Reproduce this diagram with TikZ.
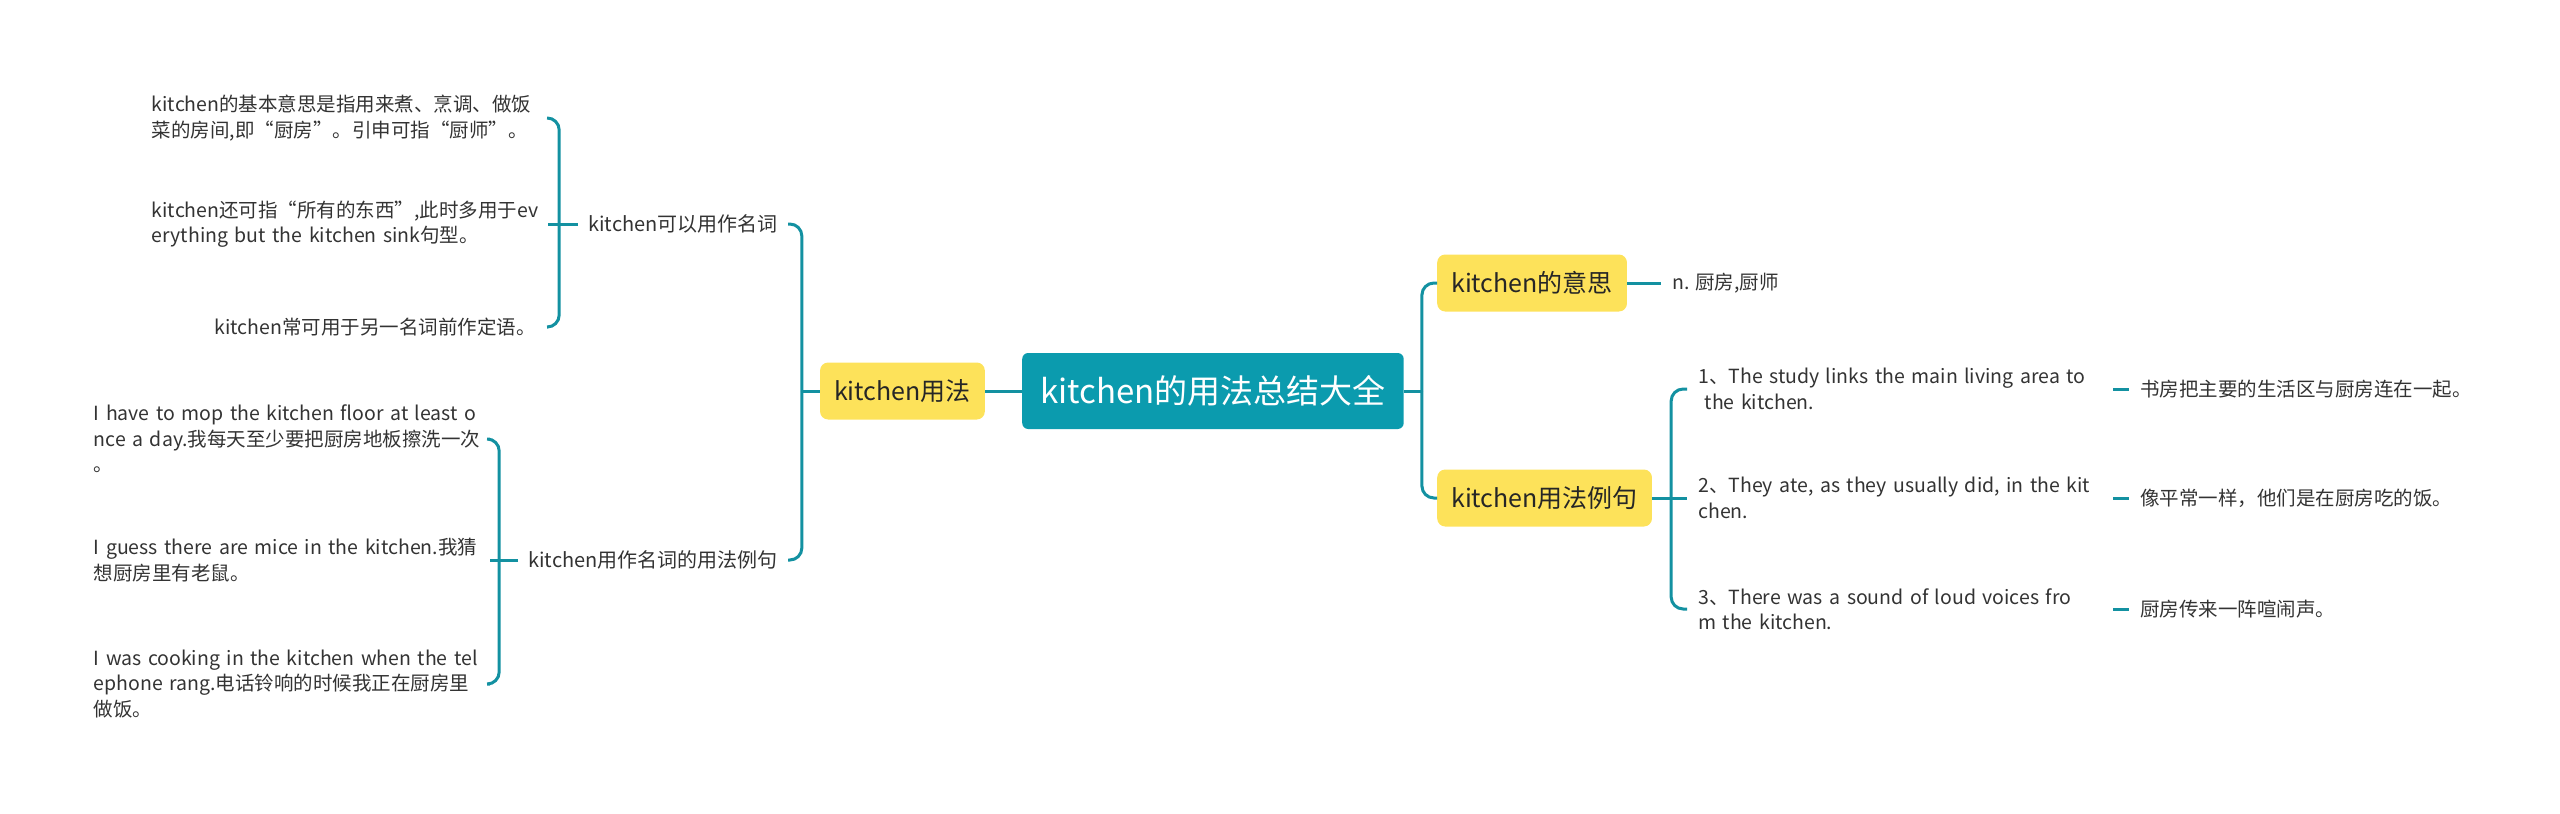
\documentclass[tikz,border=0pt]{standalone}
\usepackage{fontspec}
\setmainfont{Noto Sans CJK SC}
\definecolor{rootteal}{HTML}{0B9BAE}
\definecolor{linkteal}{HTML}{1391A1}
\definecolor{topicyellow}{HTML}{FDE25A}
\definecolor{leafgray}{HTML}{333333}
\begin{document}
\begin{tikzpicture}[x=1pt,y=-1pt,
  rootbox/.style={fill=rootteal, text=white, rounded corners=6pt, minimum height=76pt, inner xsep=18pt, font=\fontsize{33}{40}\selectfont},
  topicbox/.style={fill=topicyellow, text=black!85, rounded corners=8pt, minimum height=57pt, inner xsep=14pt, font=\fontsize{25}{32}\selectfont},
  subtext/.style={text=leafgray, inner xsep=10pt, font=\fontsize{20}{26}\selectfont},
  leaftext/.style={text=leafgray, inner xsep=12pt, align=left, font=\fontsize{19.5}{25.5}\selectfont},
  link/.style={draw=linkteal, line width=3pt, rounded corners=12pt}]
\useasboundingbox (0,0) rectangle (2560,814);
\node[rootbox, anchor=west] (root) at (1022,391) {kitchen的用法总结大全};
\node[topicbox, anchor=east] (use) at (985,391) {kitchen用法};
\node[topicbox, anchor=west] (mean) at (1437,283) {kitchen的意思};
\node[topicbox, anchor=west] (ex) at (1437,498) {kitchen用法例句};
\node[subtext, anchor=east] (noun) at (788,224) {kitchen可以用作名词};
\node[subtext, anchor=east] (sent) at (788,560) {kitchen用作名词的用法例句};
\node[leaftext, anchor=west, inner xsep=11pt] (def) at (1661,283) {n. 厨房,厨师};
\node[leaftext, anchor=east, text width=384pt] (n1) at (548,118) {kitchen的基本意思是指用来煮、烹调、做饭\\菜的房间,即“厨房”。引申可指“厨师”。};
\node[leaftext, anchor=east, text width=384pt] (n2) at (548,224) {kitchen还可指“所有的东西”,此时多用于ev\\erything but the kitchen sink句型。};
\node[leaftext, anchor=east] (n3) at (548,327) {kitchen常可用于另一名词前作定语。};
\node[leaftext, anchor=east, text width=384pt] (s1) at (490,439) {I have to mop the kitchen floor at least o\\nce a day.我每天至少要把厨房地板擦洗一次\\。};
\node[leaftext, anchor=east, text width=384pt] (s2) at (490,560) {I guess there are mice in the kitchen.我猜\\想厨房里有老鼠。};
\node[leaftext, anchor=east, text width=384pt] (s3) at (490,684) {I was cooking in the kitchen when the tel\\ephone rang.电话铃响的时候我正在厨房里\\做饭。};
\node[leaftext, anchor=west, inner xsep=11pt, text width=404pt] (e1) at (1687,389) {1、The study links the main living area to\\\ the kitchen.};
\node[leaftext, anchor=west, inner xsep=11pt, text width=404pt] (e2) at (1687,498) {2、They ate, as they usually did, in the kit\\chen.};
\node[leaftext, anchor=west, inner xsep=11pt, text width=404pt] (e3) at (1687,609) {3、There was a sound of loud voices fro\\m the kitchen.};
\node[leaftext, anchor=west, inner xsep=11pt] (t1) at (2129,389) {书房把主要的生活区与厨房连在一起。};
\node[leaftext, anchor=west, inner xsep=11pt] (t2) at (2129,498) {像平常一样，他们是在厨房吃的饭。};
\node[leaftext, anchor=west, inner xsep=11pt] (t3) at (2129,609) {厨房传来一阵喧闹声。};
\coordinate (rootfork) at ([xshift=18pt]root.east);
\coordinate (usefork) at ([xshift=-18pt]use.west);
\coordinate (nounfork) at ([xshift=-19pt]noun.west);
\coordinate (sentfork) at ([xshift=-19pt]sent.west);
\coordinate (exfork) at ([xshift=19pt]ex.east);
\draw[link] (root.west) -- (use.east);
\draw[link] (root.east) -- (rootfork);
\draw[link] (rootfork) |- (mean.west);
\draw[link] (rootfork) |- (ex.west);
\draw[link] (use.west) -- (usefork);
\draw[link] (usefork) |- (noun.east);
\draw[link] (usefork) |- (sent.east);
\draw[link] (noun.west) -- (n2.east);
\draw[link] (nounfork) |- (n1.east);
\draw[link] (nounfork) |- (n3.east);
\draw[link] (sent.west) -- (s2.east);
\draw[link] (sentfork) |- (s1.east);
\draw[link] (sentfork) |- (s3.east);
\draw[link] (mean.east) -- (def.west);
\draw[link] (ex.east) -- (e2.west);
\draw[link] (exfork) |- (e1.west);
\draw[link] (exfork) |- (e3.west);
\draw[link] (e1.east) -- (t1.west);
\draw[link] (e2.east) -- (t2.west);
\draw[link] (e3.east) -- (t3.west);
\end{tikzpicture}
\end{document}
